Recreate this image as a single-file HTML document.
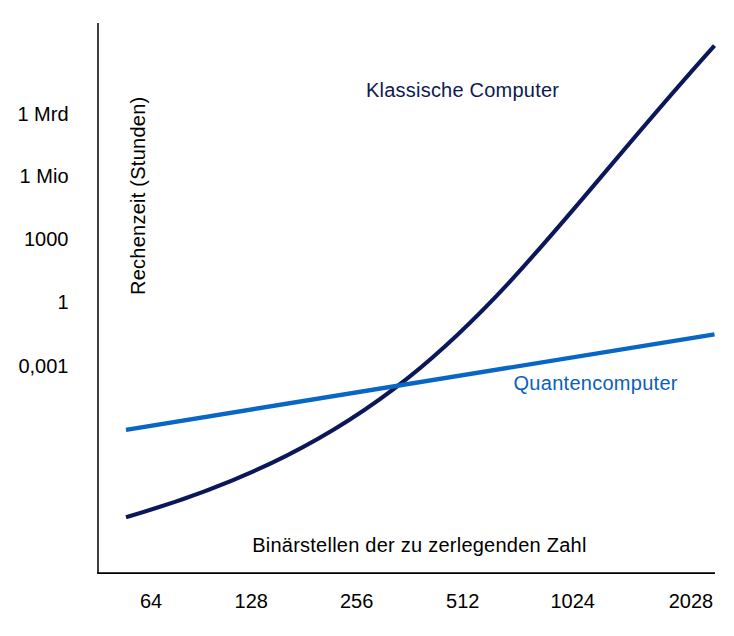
<!DOCTYPE html>
<html><head><meta charset="utf-8">
<style>
html,body{margin:0;padding:0;background:#fff;}
body{width:734px;height:636px;overflow:hidden;}
svg{display:block;}
text{font-family:"Liberation Sans",sans-serif;font-size:20px;fill:#000;}
</style></head><body>
<svg width="734" height="636" viewBox="0 0 734 636" xmlns="http://www.w3.org/2000/svg">
<rect width="734" height="636" fill="#fff"/>
<path d="M98 23 V573.2" fill="none" stroke="#2b2b2b" stroke-width="1.8"/>
<path d="M97.1 573.2 H715" fill="none" stroke="#000" stroke-width="1.8"/>
<g text-anchor="end">
<text x="68.5" y="120.6">1 Mrd</text>
<text x="68.5" y="183.3">1 Mio</text>
<text x="68.5" y="246.4">1000</text>
<text x="68.5" y="309">1</text>
<text x="68.5" y="372.8">0,001</text>
</g>
<g text-anchor="middle">
<text x="151" y="607.8">64</text>
<text x="251.3" y="607.8">128</text>
<text x="356.7" y="607.8">256</text>
<text x="462.75" y="607.8">512</text>
<text x="572.65" y="607.8">1024</text>
<text x="691" y="607.8">2028</text>
</g>
<text transform="translate(144.8,295) rotate(-90)" letter-spacing="0.25">Rechenzeit (Stunden)</text>
<text x="366" y="96.7" letter-spacing="0.22" style="fill:#0d1a52">Klassische Computer</text>
<text x="513.5" y="390.4" letter-spacing="0.28" style="fill:#0b60bb">Quantencomputer</text>
<text x="252.2" y="552.2" letter-spacing="0.24">Binärstellen der zu zerlegenden Zahl</text>
<path d="M126 517.18 C434.41 428.07 506.38 276.16 714.5 45.52" fill="none" stroke="#0c175a" stroke-width="4.1"/>
<path d="M126 429.8 L714.5 334.3" fill="none" stroke="#0866c4" stroke-width="4.3"/>
</svg>
</body></html>
